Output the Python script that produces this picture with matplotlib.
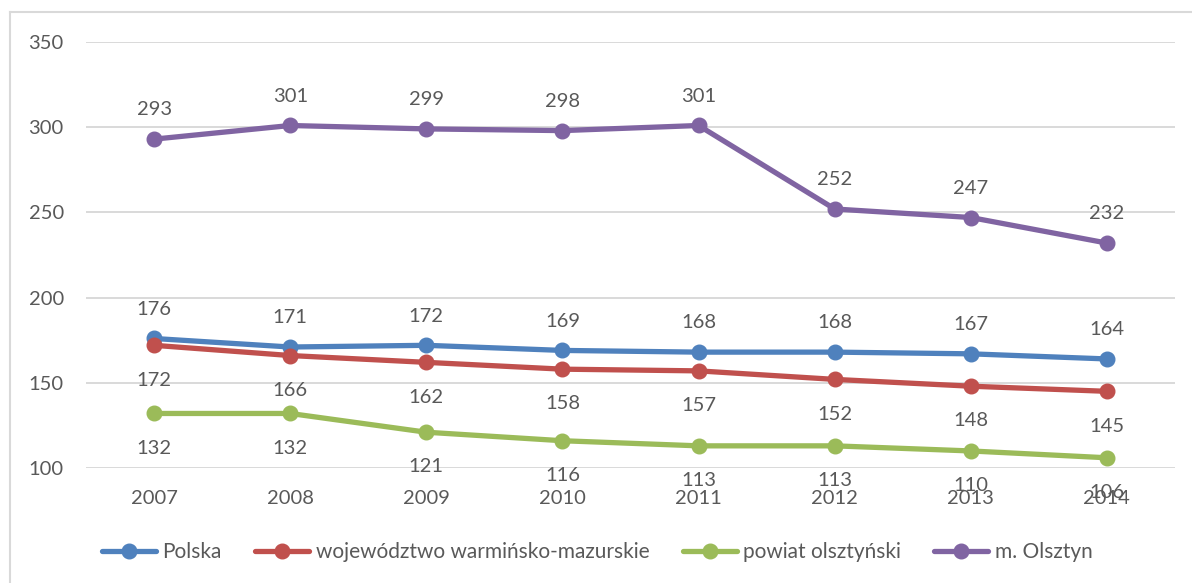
import matplotlib.pyplot as plt
from matplotlib.lines import Line2D

plt.rcParams['font.family'] = ['Lato', 'DejaVu Sans']

years = ['2007', '2008', '2009', '2010', '2011', '2012', '2013', '2014']
polska = [176, 171, 172, 169, 168, 168, 167, 164]
wojewodztwo = [172, 166, 162, 158, 157, 152, 148, 145]
powiat = [132, 132, 121, 116, 113, 113, 110, 106]
olsztyn = [293, 301, 299, 298, 301, 252, 247, 232]

series = [
    ('Polska', polska, '#4F81BD', 21),
    ('województwo warmińsko-mazurskie', wojewodztwo, '#C0504D', -25),
    ('powiat olsztyński', powiat, '#9BBB59', -25),
    ('m. Olsztyn', olsztyn, '#8064A2', 21),
]

txt = '#595959'
fs = 14.5
fig = plt.figure(figsize=(11.92, 5.83), dpi=100)
ax = fig.add_axes([86/1192, 1-468/583, (1175-86)/1192, (468-42)/583])

x = list(range(len(years)))
for name, vals, col, off in series:
    ax.plot(x, vals, color=col, lw=3.8, marker='o', ms=10.5, label=name,
            solid_capstyle='round', zorder=3)
    for xi, v in zip(x, vals):
        ax.annotate(str(v), (xi, v), xytext=(0, off), textcoords='offset points',
                    ha='center', va='center', fontsize=fs, color=txt, zorder=4)

ax.set_xlim(-0.5, 7.5)
ax.set_ylim(100, 350)
ax.set_yticks(range(100, 351, 50))
ax.set_xticks(x)
ax.set_xticklabels(years)
ax.grid(axis='y', color='#D9D9D9', lw=1.4, zorder=0)
for s in ax.spines.values():
    s.set_visible(False)
ax.tick_params(length=0, labelsize=fs, labelcolor=txt)
ax.tick_params(axis='y', pad=16)
ax.tick_params(axis='x', pad=16)

fig.legend(loc='center', bbox_to_anchor=(0.501, 1-552/583), ncol=4, frameon=False,
           fontsize=15, labelcolor=txt, handlelength=2.6, handletextpad=0.3,
           columnspacing=1.6)

# outer frame
fig.add_artist(Line2D([10/1192, 1], [1-12/583, 1-12/583], transform=fig.transFigure,
                      color='#D9D9D9', lw=1.5))
fig.add_artist(Line2D([10/1192, 10/1192], [0, 1-12/583], transform=fig.transFigure,
                      color='#D9D9D9', lw=1.5))

fig.savefig('out.png', dpi=100)
